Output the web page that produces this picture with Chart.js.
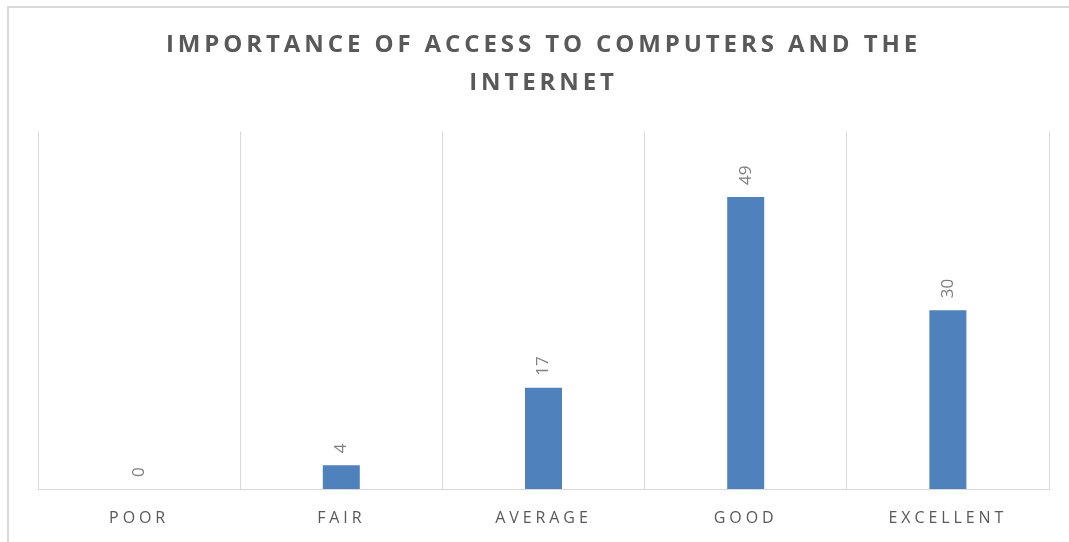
<!DOCTYPE html>
<html>
<head>
<meta charset="utf-8">
<title>Importance of access to computers and the internet</title>
<script src="https://cdn.jsdelivr.net/npm/chart.js@4.4.0/dist/chart.umd.min.js"></script>
<style>
  html, body { margin: 0; padding: 0; background: #fff; }
  #wrap { position: relative; width: 1069px; height: 542px; overflow: hidden; }
  #frame { position: absolute; left: 7px; top: 6px; width: 1100px; height: 600px; border: 2px solid #d9d9d9; box-sizing: border-box; }
  canvas { position: absolute; left: 0; top: 0; }
</style>
</head>
<body>
<div id="wrap">
  <div id="frame"></div>
  <canvas id="chart" width="1069" height="542"></canvas>
</div>
<script>
// datos del gráfico
const categories = ['POOR', 'FAIR', 'AVERAGE', 'GOOD', 'EXCELLENT'];
const values = [0, 4, 17, 49, 30];
const titleLines = ['IMPORTANCE OF ACCESS TO COMPUTERS AND THE', 'INTERNET'];

// espaciado de letras para título y etiquetas
const spacingPlugin = {
    id: 'spacing',
    beforeDraw(chart) {
        chart.ctx.letterSpacing = '3.9px';
    },
    afterDraw(chart) {
        chart.ctx.letterSpacing = '0px';
    }
};

// etiquetas de valor giradas sobre las barras
const valueLabels = {
    id: 'valueLabels',
    afterDatasetsDraw(chart) {
        const ctx = chart.ctx;
        const meta = chart.getDatasetMeta(0);
        meta.data.forEach((bar, i) => {
            ctx.save();
            ctx.letterSpacing = '0px';
            ctx.translate(bar.x, bar.y - 12);
            ctx.rotate(-Math.PI / 2);
            ctx.font = '17px "Open Sans"';
            ctx.fillStyle = '#7f7f7f';
            ctx.textAlign = 'left';
            ctx.textBaseline = 'middle';
            ctx.fillText(String(values[i]), 0, 0);
            ctx.restore();
        });
    }
};

const ctx = document.getElementById('chart').getContext('2d');
new Chart(ctx, {
    type: 'bar',
    data: {
        labels: categories,
        datasets: [{
            data: values,
            backgroundColor: '#4f81bd',
            borderWidth: 0,
            categoryPercentage: 1,
            barPercentage: 0.183
        }]
    },
    options: {
        responsive: false,
        animation: false,
        layout: { padding: { left: 38, right: 20, top: 0, bottom: 0 } },
        plugins: {
            legend: { display: false },
            tooltip: { enabled: false },
            title: {
                display: true,
                text: titleLines,
                color: '#595959',
                font: { family: '"Open Sans"', size: 24, weight: 'bold', lineHeight: 1.55 },
                padding: { top: 27, bottom: 30 }
            }
        },
        scales: {
            x: {
                grid: { offset: true, color: '#d9d9d9', lineWidth: 1, drawTicks: false },
                border: { color: '#d9d9d9', width: 1 },
                ticks: { color: '#595959', font: { family: '"Open Sans"', size: 16 }, padding: 20 },
                afterFit(scale) { scale.height = 53; }
            },
            y: {
                display: false,
                min: 0,
                max: 60
            }
        }
    },
    plugins: [spacingPlugin, valueLabels]
});
</script>
</body>
</html>
